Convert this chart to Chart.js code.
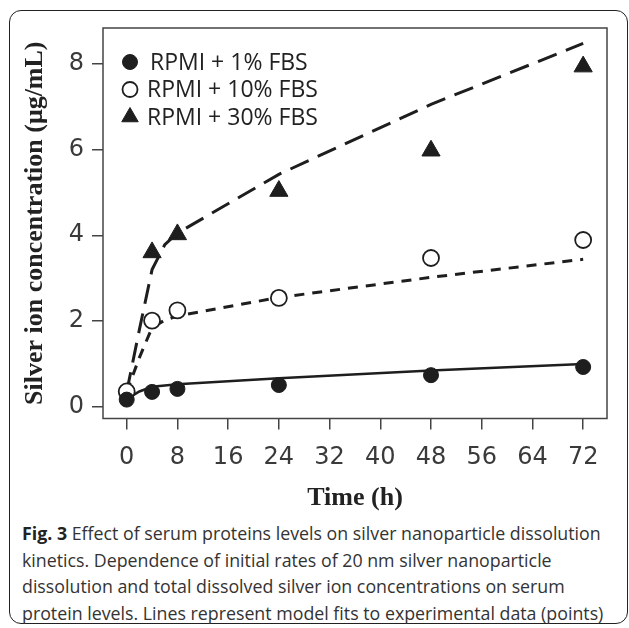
<!DOCTYPE html>
<html>
<head>
<meta charset="utf-8">
<script src="https://cdn.jsdelivr.net/npm/chart.js@4.4.1/dist/chart.umd.min.js"></script>
<style>
  html, body { margin: 0; padding: 0; background: #fff; }
  #page { position: relative; width: 629px; height: 628px; overflow: hidden; }
  #frame {
    position: absolute; left: 9px; top: 10px; width: 617px; height: 612px;
    border: 1.5px solid #222; border-radius: 12px;
  }
  #chartBox { position: absolute; left: 0; top: 0; width: 629px; height: 520px; }
  #caption {
    position: absolute; left: 22px; top: 520px; white-space: nowrap;
    font-family: "Open Sans", sans-serif; font-size: 17.8px; line-height: 26.7px; color: #333;
  }
  #caption b { color: #222; }
</style>
</head>
<body>
<div id="page">
  <div id="frame"></div>
  <div id="chartBox"><canvas id="dissolutionChart"></canvas></div>
  <div id="caption"><b>Fig. 3</b> Effect of serum proteins levels on silver nanoparticle dissolution<br>kinetics. Dependence of initial rates of 20 nm silver nanoparticle<br>dissolution and total dissolved silver ion concentrations on serum<br>protein levels. Lines represent model fits to experimental data (points)</div>
</div>
<script>
// measured points (ug/mL) at each time (h)
const timePoints = [0, 4, 8, 24, 48, 72];
const fbs1 = [0.17, 0.35, 0.42, 0.51, 0.74, 0.93];
const fbs10 = [0.36, 2.01, 2.25, 2.54, 3.47, 3.89];
const fbs30 = [null, 3.6, 4.02, 5.03, 5.97, 7.93];

// model fit lines
const fitTimes = [0, 2, 4, 6, 8, 24, 48, 72];
const fit1 = [0.18, 0.36, 0.47, 0.5, 0.53, 0.67, 0.85, 1.0];
const fit10 = [0.35, 1.15, 1.85, 2.02, 2.12, 2.55, 3.02, 3.44];
const fit30 = [0.35, 1.8, 3.2, 3.78, 4.05, 5.42, 7.05, 8.47];

const seriesNames = ['RPMI + 1% FBS', 'RPMI + 10% FBS', 'RPMI + 30% FBS'];
const xTicks = [0, 8, 16, 24, 32, 40, 48, 56, 64, 72];
const yTicks = [0, 2, 4, 6, 8];

const ink = '#1e1e1e';
const legendRadius = [7.5, 7.5, 9.5];

function toXY(xs, ys) {
    return xs.map((x, i) => ({x: x, y: ys[i]})).filter(p => p.y !== null);
}

// frame around the plot area
const plotBox = {
    id: 'plotBox',
    beforeDatasetsDraw(chart) {
        const a = chart.chartArea;
        const ctx = chart.ctx;
        ctx.save();
        ctx.strokeStyle = '#444';
        ctx.lineWidth = 1.5;
        ctx.strokeRect(a.left, a.top, a.right - a.left, a.bottom - a.top);
        ctx.restore();
    }
};

// legend in the top left corner of the plot, markers only
const legendBox = {
    id: 'legendBox',
    afterDraw(chart) {
        const ctx = chart.ctx;
        const a = chart.chartArea;
        seriesNames.forEach((name, i) => {
            const ds = chart.data.datasets[i];
            const y = a.top + 34 + i * 27.5;
            ctx.save();
            ctx.fillStyle = ds.backgroundColor;
            ctx.strokeStyle = ds.borderColor;
            ctx.lineWidth = ds.borderWidth;
            Chart.helpers.drawPoint(ctx, {
                pointStyle: ds.pointStyle, radius: legendRadius[i],
                borderWidth: ds.borderWidth, rotation: 0
            }, a.left + 27, y);
            ctx.fillStyle = '#222';
            ctx.font = '23px "Open Sans"';
            ctx.textBaseline = 'middle';
            ctx.fillText(name, a.left + (i === 0 ? 47 : 44), y + 1);
            ctx.restore();
        });
    }
};

const ctx = document.getElementById('dissolutionChart').getContext('2d');
const chart = new Chart(ctx, {
    type: 'scatter',
    data: {
        datasets: [
            {
                label: seriesNames[0],
                data: toXY(timePoints, fbs1),
                pointStyle: 'circle', pointRadius: 7.5,
                backgroundColor: ink, borderColor: ink, borderWidth: 1,
                order: 0
            },
            {
                label: seriesNames[1],
                data: toXY(timePoints, fbs10),
                pointStyle: 'circle', pointRadius: 8,
                backgroundColor: '#fff', borderColor: ink, borderWidth: 1.8,
                order: 1
            },
            {
                label: seriesNames[2],
                data: toXY(timePoints, fbs30),
                pointStyle: 'triangle', pointRadius: 10.5,
                backgroundColor: ink, borderColor: ink, borderWidth: 1,
                order: 2
            },
            {
                label: 'fit 1%',
                data: toXY(fitTimes, fit1),
                showLine: true, pointRadius: 0,
                borderColor: ink, borderWidth: 2.5, tension: 0,
                order: 3
            },
            {
                label: 'fit 10%',
                data: toXY(fitTimes, fit10),
                showLine: true, pointRadius: 0,
                borderColor: ink, borderWidth: 3, borderDash: [10, 8], tension: 0,
                order: 4
            },
            {
                label: 'fit 30%',
                data: toXY(fitTimes, fit30),
                showLine: true, pointRadius: 0,
                borderColor: ink, borderWidth: 3, borderDash: [20, 10], tension: 0,
                order: 5
            }
        ]
    },
    options: {
        responsive: true,
        maintainAspectRatio: false,
        animation: false,
        layout: { padding: { left: 10, right: 22, top: 28, bottom: 0 } },
        plugins: {
            tooltip: { enabled: false },
            legend: { display: false }
        },
        scales: {
            x: {
                type: 'linear',
                min: -3.74,
                max: 75.76,
                afterBuildTicks: (s) => { s.ticks = xTicks.map(v => ({value: v})); },
                afterFit: (s) => { s.height = 101.5; },
                border: { display: false },
                grid: { drawOnChartArea: false, drawTicks: true, tickLength: 11, tickColor: '#444', lineWidth: 1.5 },
                ticks: { color: '#3a3a3a', padding: 14, maxRotation: 0, font: { family: 'DejaVu Sans', size: 24 } },
                title: {
                    display: true, text: 'Time (h)', color: '#222',
                    font: { family: 'Liberation Serif', size: 26, weight: 'bold' },
                    padding: { top: 0, bottom: 6 }
                }
            },
            y: {
                type: 'linear',
                min: -0.27,
                max: 8.83,
                afterBuildTicks: (s) => { s.ticks = yTicks.map(v => ({value: v})); },
                afterFit: (s) => { s.width = 93; },
                border: { display: false },
                grid: { drawOnChartArea: false, drawTicks: true, tickLength: 11, tickColor: '#444', lineWidth: 1.5 },
                ticks: { color: '#3a3a3a', padding: 8, font: { family: 'DejaVu Sans', size: 24 } },
                title: {
                    display: true, text: 'Silver ion concentration (μg/mL)', color: '#222',
                    font: { family: 'Liberation Serif', size: 26, weight: 'bold' },
                    padding: { top: 10, bottom: 0 }
                }
            }
        }
    },
    plugins: [plotBox, legendBox]
});
</script>
</body>
</html>
